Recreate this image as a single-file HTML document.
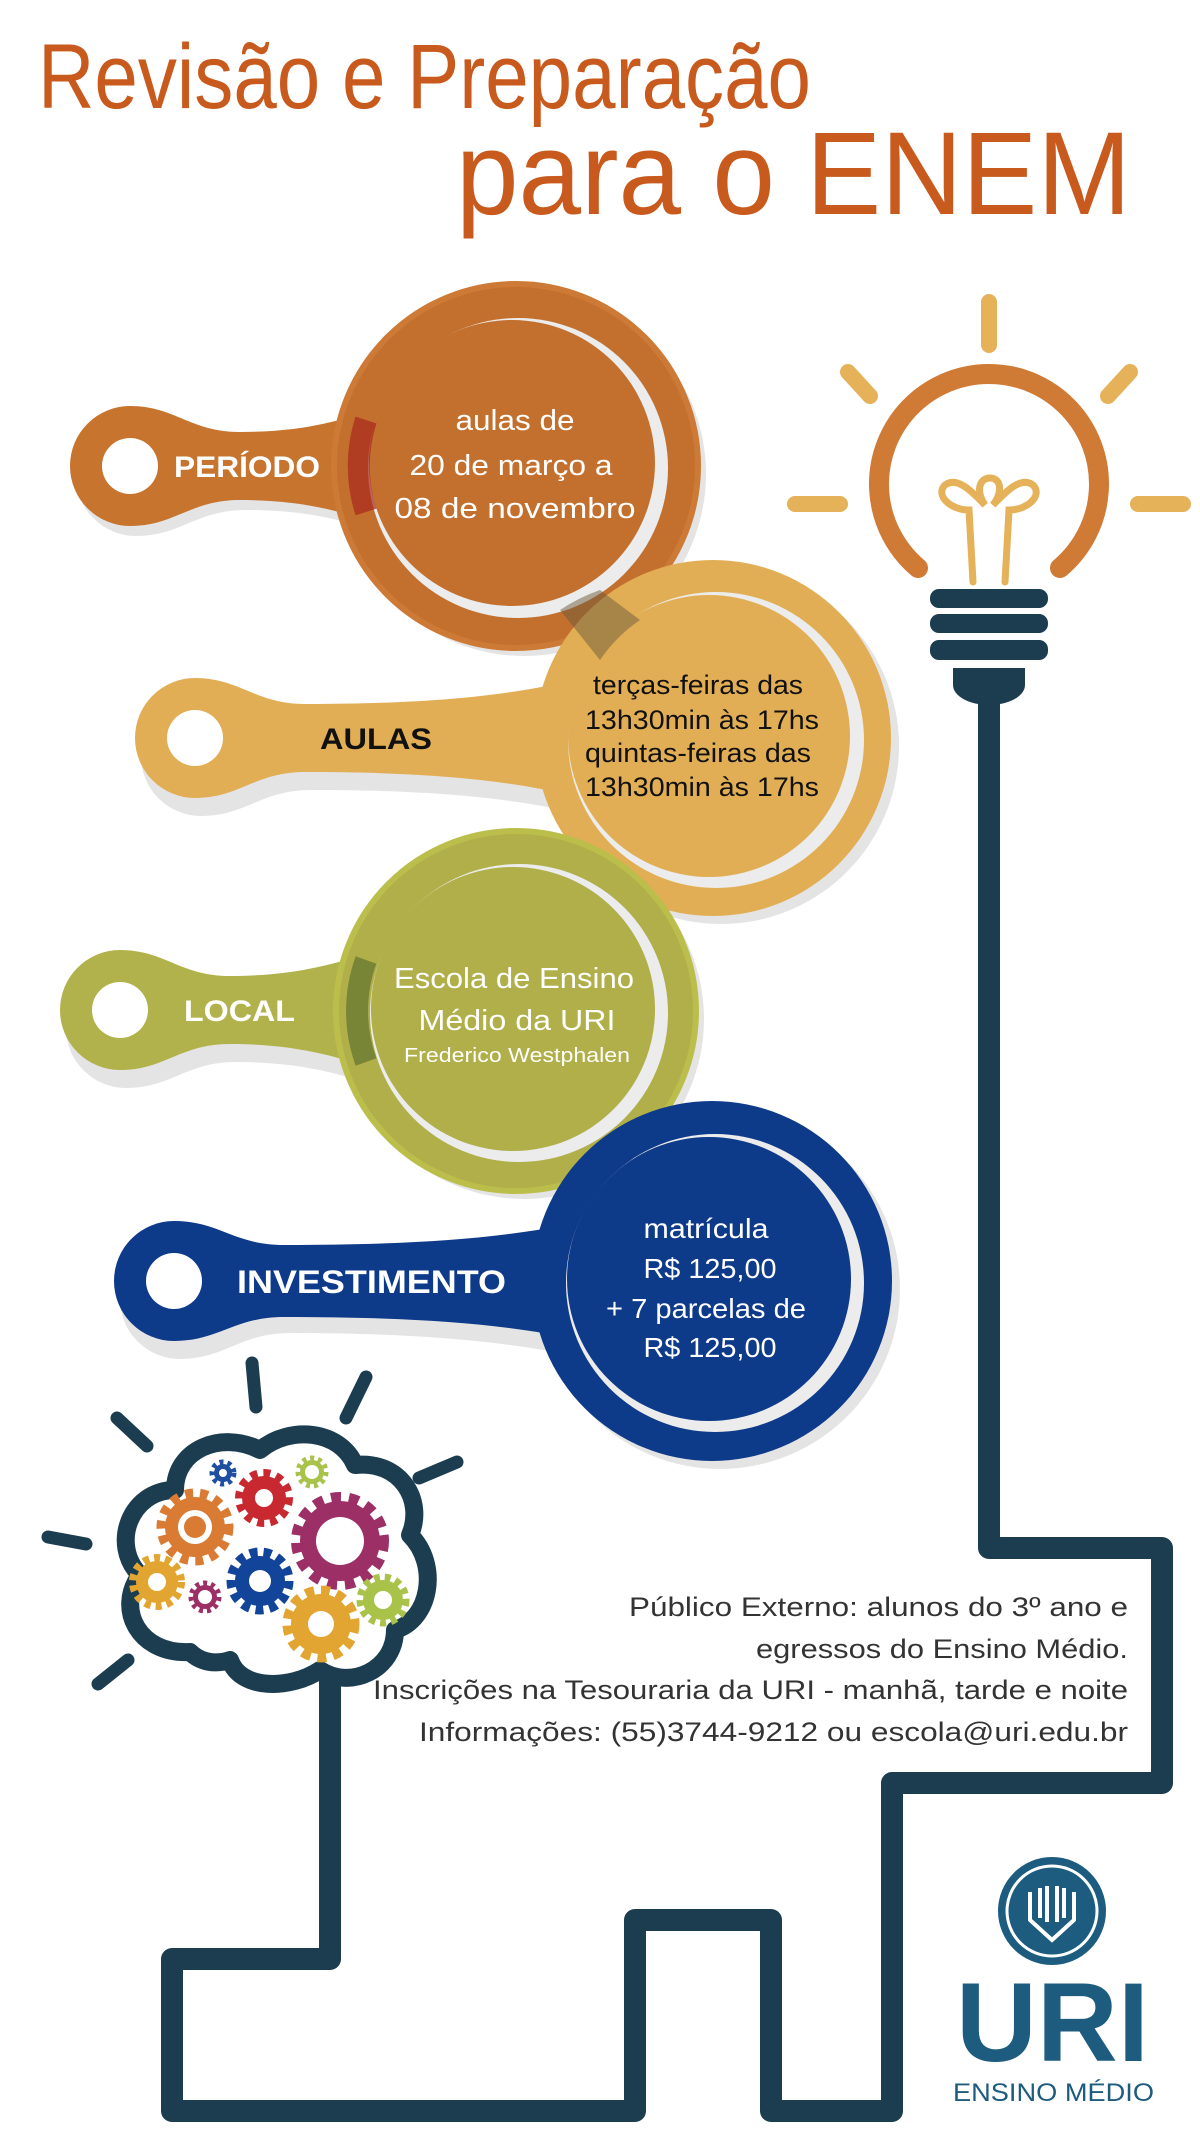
<!DOCTYPE html>
<html><head><meta charset="utf-8"><style>
html,body{margin:0;padding:0;background:#fff}
svg{display:block}
text{font-family:"Liberation Sans",sans-serif}
</style></head><body>
<svg width="1200" height="2134" viewBox="0 0 1200 2134" xmlns="http://www.w3.org/2000/svg">
<!-- Title -->
<text x="38" y="108" font-size="92" fill="#c85a1e" textLength="773" lengthAdjust="spacingAndGlyphs">Revisão e Preparação</text>
<text x="456" y="214" font-size="118" fill="#c85a1e" textLength="675" lengthAdjust="spacingAndGlyphs">para o ENEM</text>

<!-- wire -->
<path d="M989,700 V1548 H1162 V1783 H892 V2111 H771 V1920 H635 V2111 H172 V1959 H330 V1675" fill="none" stroke="#1c3d50" stroke-width="22" stroke-linejoin="round"/>

<!-- Lightbulb -->
<g stroke="#e5b25a" stroke-width="16" stroke-linecap="round" fill="none">
<line x1="989" y1="302" x2="989" y2="345"/>
<line x1="848" y1="372" x2="870" y2="396"/>
<line x1="1130" y1="372" x2="1108" y2="396"/>
<line x1="795" y1="504" x2="840" y2="504"/>
<line x1="1138" y1="504" x2="1183" y2="504"/>
</g>
<path d="M918,568 A110 110 0 1 1 1060,568" fill="none" stroke="#cf7a35" stroke-width="20" stroke-linecap="round"/>
<g stroke="#e5b25a" stroke-width="7" fill="none" stroke-linecap="round">
<path d="M973,582 L969,510 C950,510 935,495 945,485 C958,475 975,495 985,505 C975,490 980,478 990,478 C1000,478 1004,490 993,505 C1003,495 1020,475 1033,485 C1043,495 1028,510 1009,510 L1005,582"/>
</g>
<g fill="#1c3d50">
<rect x="930" y="589" width="118" height="19" rx="9"/>
<rect x="930" y="614" width="118" height="19" rx="9"/>
<rect x="930" y="640" width="118" height="20" rx="9"/>
<path d="M953,668 H1025 V685 A36 20 0 0 1 953,685 Z"/>
</g>

<!-- shadows -->
<g fill="#e4e4e4">
<circle cx="524" cy="474" r="182"/>
<circle cx="721" cy="746" r="178"/>
<circle cx="524" cy="1019" r="180"/>
<circle cx="720" cy="1289" r="180"/>
</g>

<!-- PERIODO -->
<path d="M130,414 C175,414 190,440 240,440 C290,440 330,433 370,418 L370,530 C330,515 290,508 240,508 C190,508 175,534 130,534 A60 60 0 0 1 130,414 Z" fill="#e4e4e4" transform="translate(6,2)"/>
<path d="M130,406 C175,406 190,432 240,432 C290,432 330,425 370,410 L370,522 C330,507 290,500 240,500 C190,500 175,526 130,526 A60 60 0 0 1 130,406 Z" fill="#c7742f"/>
<circle cx="516" cy="466" r="182" fill="#c3702f"/>
<circle cx="516" cy="466" r="182" fill="none" stroke="#cc7a35" stroke-width="6"/>
<circle cx="518" cy="468" r="150" fill="#ececec"/>
<circle cx="512" cy="463" r="143" fill="#c3702f"/>
<path d="M366,420 A150 150 0 0 0 366,512" stroke="#a8261c" stroke-width="22" fill="none" opacity="0.7"/>
<circle cx="130" cy="466" r="28" fill="#fff"/>
<text x="174" y="477" font-size="30" font-weight="bold" fill="#fff" textLength="146" lengthAdjust="spacingAndGlyphs">PERÍODO</text>
<g fill="#fff" font-size="29" text-anchor="middle">
<text x="515" y="430" textLength="119" lengthAdjust="spacingAndGlyphs">aulas de</text>
<text x="511" y="475" textLength="203" lengthAdjust="spacingAndGlyphs">20 de março a</text>
<text x="515" y="518" textLength="241" lengthAdjust="spacingAndGlyphs">08 de novembro</text>
</g>

<!-- AULAS -->
<path d="M195,686 C240,686 255,712 305,712 C420,712 500,705 565,690 L565,802 C500,787 420,780 305,780 C255,780 240,806 195,806 A60 60 0 0 1 195,686 Z" fill="#e4e4e4" transform="translate(6,10)"/>
<path d="M195,678 C240,678 255,704 305,704 C420,704 500,697 565,682 L565,794 C500,779 420,772 305,772 C255,772 240,798 195,798 A60 60 0 0 1 195,678 Z" fill="#e2ae55"/>
<circle cx="713" cy="738" r="178" fill="#e2ae55"/>
<circle cx="716" cy="740" r="148" fill="#ececec"/>
<circle cx="709" cy="736" r="141" fill="#e2ae55"/>
<path d="M560,610 A178 178 0 0 1 600,590 L640,620 A150 150 0 0 0 600,660 Z" fill="#6b5a3a" opacity="0.5"/>
<circle cx="195" cy="738" r="28" fill="#fff"/>
<text x="320" y="749" font-size="30" font-weight="bold" fill="#111" textLength="112" lengthAdjust="spacingAndGlyphs">AULAS</text>
<g fill="#111" font-size="27" text-anchor="middle">
<text x="698" y="694" textLength="210" lengthAdjust="spacingAndGlyphs">terças-feiras das</text>
<text x="702" y="729" textLength="234" lengthAdjust="spacingAndGlyphs">13h30min às 17hs</text>
<text x="698" y="762" textLength="226" lengthAdjust="spacingAndGlyphs">quintas-feiras das</text>
<text x="702" y="796" textLength="234" lengthAdjust="spacingAndGlyphs">13h30min às 17hs</text>
</g>

<!-- LOCAL -->
<path d="M120,958 C165,958 180,984 230,984 C280,984 320,977 365,962 L365,1074 C320,1059 280,1052 230,1052 C180,1052 165,1078 120,1078 A60 60 0 0 1 120,958 Z" fill="#e4e4e4" transform="translate(6,10)"/>
<path d="M120,950 C165,950 180,976 230,976 C280,976 320,969 365,954 L365,1066 C320,1051 280,1044 230,1044 C180,1044 165,1070 120,1070 A60 60 0 0 1 120,950 Z" fill="#b2b24c"/>
<circle cx="516" cy="1011" r="180" fill="#b0af4a"/>
<circle cx="516" cy="1011" r="180" fill="none" stroke="#bcbe4c" stroke-width="6"/>
<circle cx="519" cy="1013" r="149" fill="#ececec"/>
<circle cx="513" cy="1009" r="142" fill="#b0af4a"/>
<path d="M366,960 A150 150 0 0 0 366,1062" stroke="#6a7a32" stroke-width="22" fill="none" opacity="0.8"/>
<circle cx="120" cy="1010" r="28" fill="#fff"/>
<text x="184" y="1021" font-size="30" font-weight="bold" fill="#fff" textLength="111" lengthAdjust="spacingAndGlyphs">LOCAL</text>
<g fill="#fff" text-anchor="middle">
<text x="514" y="988" font-size="29" textLength="240" lengthAdjust="spacingAndGlyphs">Escola de Ensino</text>
<text x="517" y="1030" font-size="29" textLength="197" lengthAdjust="spacingAndGlyphs">Médio da URI</text>
<text x="517" y="1062" font-size="20" textLength="226" lengthAdjust="spacingAndGlyphs">Frederico Westphalen</text>
</g>

<!-- INVESTIMENTO -->
<path d="M174,1229 C219,1229 234,1255 284,1255 C400,1255 490,1248 565,1233 L565,1345 C490,1330 400,1323 284,1323 C234,1323 219,1349 174,1349 A60 60 0 0 1 174,1229 Z" fill="#e4e4e4" transform="translate(6,10)"/>
<path d="M174,1221 C219,1221 234,1245 284,1245 C400,1245 490,1240 565,1225 L565,1337 C490,1322 400,1317 284,1317 C234,1317 219,1341 174,1341 A60 60 0 0 1 174,1221 Z" fill="#0e3a8a"/>
<circle cx="712" cy="1281" r="180" fill="#0e3a8a"/>
<circle cx="715" cy="1283" r="149" fill="#ececec"/>
<circle cx="709" cy="1279" r="142" fill="#0e3a8a"/>
<circle cx="174" cy="1281" r="28" fill="#fff"/>
<text x="237" y="1293" font-size="32" font-weight="bold" fill="#fff" textLength="269" lengthAdjust="spacingAndGlyphs">INVESTIMENTO</text>
<g fill="#fff" font-size="28" text-anchor="middle">
<text x="706" y="1238" textLength="125" lengthAdjust="spacingAndGlyphs">matrícula</text>
<text x="710" y="1278" textLength="133" lengthAdjust="spacingAndGlyphs">R$ 125,00</text>
<text x="706" y="1318" textLength="200" lengthAdjust="spacingAndGlyphs">+ 7 parcelas de</text>
<text x="710" y="1357" textLength="133" lengthAdjust="spacingAndGlyphs">R$ 125,00</text>
</g>

<!-- Brain -->
<g stroke="#1c3d50" stroke-width="13" stroke-linecap="round">
<line x1="252" y1="1363" x2="256" y2="1407"/>
<line x1="366" y1="1377" x2="346" y2="1418"/>
<line x1="117" y1="1418" x2="147" y2="1446"/>
<line x1="419" y1="1478" x2="457" y2="1462"/>
<line x1="48" y1="1537" x2="86" y2="1544"/>
<line x1="98" y1="1684" x2="128" y2="1660"/>
</g>
<path d="M190,1652 C140,1655 115,1610 140,1575 C110,1545 130,1490 175,1490 C175,1450 220,1430 260,1450 C290,1425 340,1430 355,1465 C400,1460 425,1500 410,1535 C440,1565 430,1620 395,1630 C395,1670 350,1690 320,1670 C290,1690 240,1690 230,1660 C215,1665 200,1662 190,1652 Z" fill="#fff" stroke="#1c3d50" stroke-width="18" stroke-linejoin="round"/>
<g>
<g fill="#d97b32"><circle cx="195" cy="1527" r="30"/><circle cx="195" cy="1527" r="34" fill="none" stroke="#d97b32" stroke-width="9" stroke-dasharray="8 7"/><circle cx="195" cy="1527" r="17" fill="#fff"/><circle cx="195" cy="1527" r="11"/></g>
<g fill="#c8282f"><circle cx="264" cy="1498" r="22"/><circle cx="264" cy="1498" r="25" fill="none" stroke="#c8282f" stroke-width="8" stroke-dasharray="7 6"/><circle cx="264" cy="1498" r="9" fill="#fff"/></g>
<g fill="#1f4fa0"><circle cx="223" cy="1473" r="9"/><circle cx="223" cy="1473" r="11" fill="none" stroke="#1f4fa0" stroke-width="5" stroke-dasharray="4 4"/><circle cx="223" cy="1473" r="4" fill="#fff"/></g>
<g fill="#a8c24a"><circle cx="312" cy="1472" r="12"/><circle cx="312" cy="1472" r="14" fill="none" stroke="#a8c24a" stroke-width="5" stroke-dasharray="4 4"/><circle cx="312" cy="1472" r="7" fill="#fff"/></g>
<g fill="#9b2f66"><circle cx="340" cy="1541" r="40"/><circle cx="340" cy="1541" r="44" fill="none" stroke="#9b2f66" stroke-width="10" stroke-dasharray="10 8"/><circle cx="340" cy="1541" r="24" fill="#fff"/></g>
<g fill="#12449a"><circle cx="260" cy="1581" r="25"/><circle cx="260" cy="1581" r="29" fill="none" stroke="#12449a" stroke-width="9" stroke-dasharray="8 6"/><circle cx="260" cy="1581" r="11" fill="#fff"/></g>
<g fill="#e3a531"><circle cx="157" cy="1582" r="21"/><circle cx="157" cy="1582" r="24" fill="none" stroke="#e3a531" stroke-width="8" stroke-dasharray="6 5"/><circle cx="157" cy="1582" r="9" fill="#fff"/></g>
<g fill="#9b2f66"><circle cx="205" cy="1597" r="12"/><circle cx="205" cy="1597" r="14" fill="none" stroke="#9b2f66" stroke-width="5" stroke-dasharray="4 4"/><circle cx="205" cy="1597" r="7" fill="#fff"/></g>
<g fill="#e3a531"><circle cx="321" cy="1624" r="30"/><circle cx="321" cy="1624" r="34" fill="none" stroke="#e3a531" stroke-width="9" stroke-dasharray="9 7"/><circle cx="321" cy="1624" r="13" fill="#fff"/></g>
<g fill="#a8c24a"><circle cx="383" cy="1600" r="20"/><circle cx="383" cy="1600" r="23" fill="none" stroke="#a8c24a" stroke-width="7" stroke-dasharray="6 5"/><circle cx="383" cy="1600" r="9" fill="#fff"/></g>
</g>

<!-- info text -->
<g fill="#333" font-size="27" text-anchor="end">
<text x="1128" y="1616" textLength="499" lengthAdjust="spacingAndGlyphs">Público Externo: alunos do 3º ano e</text>
<text x="1128" y="1658" textLength="372" lengthAdjust="spacingAndGlyphs">egressos do Ensino Médio.</text>
<text x="1128" y="1699" textLength="755" lengthAdjust="spacingAndGlyphs">Inscrições na Tesouraria da URI - manhã, tarde e noite</text>
<text x="1128" y="1741" textLength="709" lengthAdjust="spacingAndGlyphs">Informações: (55)3744-9212 ou escola@uri.edu.br</text>
</g>

<!-- URI logo -->
<circle cx="1052" cy="1911" r="54" fill="#1d5c7e"/>
<circle cx="1052" cy="1911" r="45" fill="none" stroke="#fff" stroke-width="3"/>
<g stroke="#fff" stroke-width="4" fill="none">
<path d="M1030,1892 V1920 L1052,1940 L1074,1920 V1892"/>
<path d="M1040,1888 V1918 M1047,1886 V1922 M1057,1886 V1922 M1064,1888 V1918"/>
</g>
<text x="956" y="2061" font-family="Liberation Serif,serif" font-weight="bold" font-size="112" fill="#1d5c7e" textLength="193" lengthAdjust="spacingAndGlyphs">URI</text>
<text x="953" y="2101" font-family="Liberation Serif,serif" font-size="25" fill="#1d5c7e" textLength="201" lengthAdjust="spacingAndGlyphs">ENSINO MÉDIO</text>
</svg>
</body></html>
